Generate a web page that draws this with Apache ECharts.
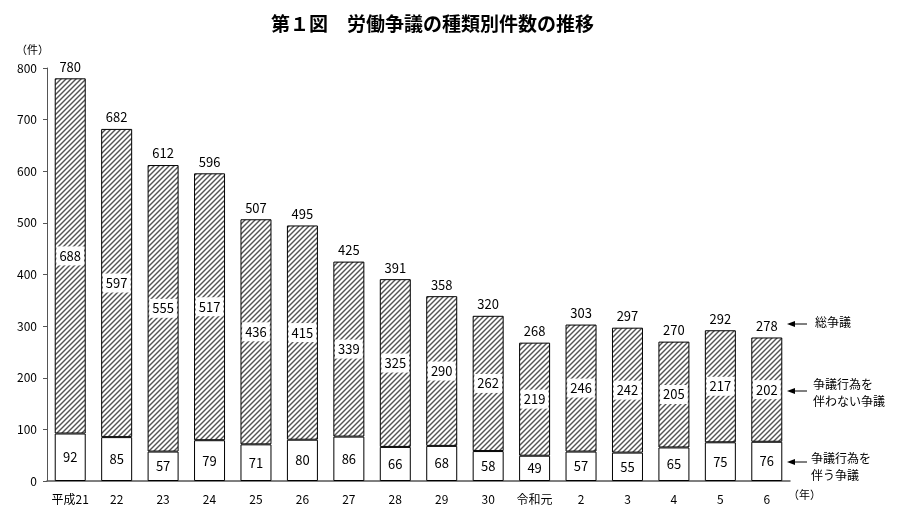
<!DOCTYPE html>
<html><head><meta charset="utf-8">
<script src="https://cdn.jsdelivr.net/npm/echarts@6/dist/echarts.min.js"></script>
<style>html,body{margin:0;padding:0;background:#fff}#c{width:904px;height:528px}</style>
</head><body><div id="c"></div>
<script>
const categories = ['平成21','22','23','24','25','26','27','28','29','30','令和元','2','3','4','5','6'];
const withAction = [92,85,57,79,71,80,86,66,68,58,49,57,55,65,75,76];
const withoutAction = [688,597,555,517,436,415,339,325,290,262,219,246,242,205,217,202];
const totals = [780,682,612,596,507,495,425,391,358,320,268,303,297,270,292,278];
const yTicks = [0,100,200,300,400,500,600,700,800];

const FONT = '"Noto Sans CJK JP", sans-serif';

const pc = document.createElement('canvas');
pc.width = 5; pc.height = 5;
const g = pc.getContext('2d');
g.fillStyle = '#fff'; g.fillRect(0,0,5,5);
g.strokeStyle = '#555'; g.lineWidth = 1.4;
for (let k = -1; k <= 1; k++) {
  g.beginPath(); g.moveTo(k*5 - 1, 6); g.lineTo(k*5 + 6, -1); g.stroke();
}

const chart = echarts.init(document.getElementById('c'));
function arrow(y) {
  return {type:'group', children:[
    {type:'line', shape:{x1:793,y1:y,x2:807,y2:y}, style:{stroke:'#000',lineWidth:1}},
    {type:'polygon', shape:{points:[[787,y],[795,y-3],[795,y+3]]}, style:{fill:'#000'}}
  ]};
}
chart.setOption({
  animation:false,
  textStyle:{fontFamily:FONT},
  title:{text:'第１図　労働争議の種類別件数の推移', left:266, top:9,
    textStyle:{fontSize:19,fontWeight:'bold',color:'#000',fontFamily:FONT}},
  grid:{left:47,right:114,top:68,bottom:47},
  xAxis:{type:'category', data:categories,
    axisLine:{lineStyle:{color:'#555',width:1.5}}, axisTick:{show:false},
    axisLabel:{color:'#000',fontSize:12,margin:12,interval:0,fontFamily:FONT}},
  yAxis:{type:'value', min:yTicks[0], max:yTicks[yTicks.length-1], interval:100,
    axisLine:{show:true,lineStyle:{color:'#555',width:1}},
    axisTick:{show:true,length:4,lineStyle:{color:'#555'}},
    splitLine:{show:false},
    axisLabel:{color:'#000',fontSize:12,margin:10,fontFamily:FONT}},
  series:[
    {type:'bar', stack:'a', data:withAction, barWidth:31,
      itemStyle:{color:'#fff',borderColor:'#000',borderWidth:1},
      label:{show:true,position:'inside',color:'#000',fontSize:13,fontFamily:FONT}},
    {type:'bar', stack:'a', data:withoutAction, barWidth:31,
      itemStyle:{color:{image:pc,repeat:'repeat'},borderColor:'#000',borderWidth:1},
      label:{show:true,position:'inside',color:'#000',fontSize:13,fontFamily:FONT,
        backgroundColor:'#fff',padding:[3,3]}},
    {type:'scatter', data:totals, symbolSize:0, z:5, itemStyle:{opacity:1,color:'#000'},
      label:{show:true,position:'top',distance:5,color:'#000',fontSize:13,fontFamily:FONT}}
  ],
  graphic:[
    {type:'text', left:16, top:44, style:{text:'（件）',fontSize:11,fill:'#000',fontFamily:FONT}},
    {type:'text', left:788, top:489, style:{text:'（年）',fontSize:11,fill:'#000',fontFamily:FONT}},
    arrow(324), arrow(391), arrow(462),
    {type:'text', left:815, top:316, style:{text:'総争議',fontSize:12,fill:'#000',fontFamily:FONT}},
    {type:'text', left:813, top:376, style:{text:'争議行為を\n伴わない争議',fontSize:12,lineHeight:17,fill:'#000',fontFamily:FONT}},
    {type:'text', left:811, top:450, style:{text:'争議行為を\n伴う争議',fontSize:12,lineHeight:17,fill:'#000',fontFamily:FONT}}
  ]
});
</script></body></html>
